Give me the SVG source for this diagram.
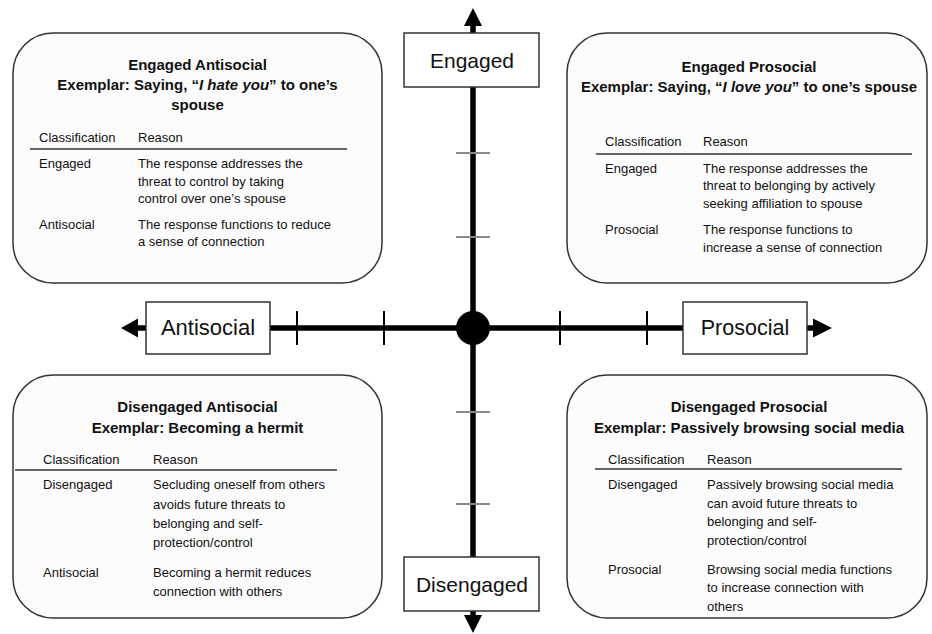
<svg xmlns="http://www.w3.org/2000/svg" width="932" height="634" viewBox="0 0 932 634">
<style>
text{font-family:"Liberation Sans",Arial,sans-serif;fill:#111}
.card{fill:#fcfcfc;stroke:#333;stroke-width:1.5}
.ttl{font-size:15px;font-weight:bold;text-anchor:middle}
.b{font-size:13px}
.rule{stroke:#333;stroke-width:1.3}
.lab{fill:#fff;stroke:#333;stroke-width:1.5}
.ax{font-size:21px;text-anchor:middle}
.axis{stroke:#000;stroke-width:5.5;fill:none}
.tk{stroke:#000;stroke-width:2}
.tg{stroke:#8a8a8a;stroke-width:2.2}
</style>
<g id="connectors">
<line class="axis" x1="473" y1="22" x2="473" y2="620"/>
<line class="axis" x1="134" y1="328" x2="816" y2="328"/>
<polygon points="473,8 464,26 482,26" fill="#000"/>
<polygon points="473,633 464,615 482,615" fill="#000"/>
<polygon points="121,328 138,318.5 138,337.5" fill="#000"/>
<polygon points="832,328 813,318.5 813,337.5" fill="#000"/>
<line class="tk" x1="297" y1="311" x2="297" y2="345"/>
<line class="tk" x1="384" y1="311" x2="384" y2="345"/>
<line class="tk" x1="560" y1="311" x2="560" y2="345"/>
<line class="tk" x1="647" y1="311" x2="647" y2="345"/>
<line class="tg" x1="456" y1="153" x2="490" y2="153"/>
<line class="tg" x1="456" y1="237" x2="490" y2="237"/>
<line class="tg" x1="456" y1="412" x2="490" y2="412"/>
<line class="tg" x1="456" y1="504" x2="490" y2="504"/>
<circle cx="473" cy="328" r="17" fill="#000"/>
</g>
<g id="engaged">
<rect class="lab" x="404" y="33" width="135" height="54"/>
<text class="ax" x="472" y="68">Engaged</text>
</g>
<g id="disengaged">
<rect class="lab" x="404" y="557" width="135" height="54"/>
<text class="ax" x="472" y="592">Disengaged</text>
</g>
<g id="antisocial">
<rect class="lab" x="146" y="302" width="124" height="52"/>
<text class="ax" x="208" y="335" style="font-size:22px">Antisocial</text>
</g>
<g id="prosocial">
<rect class="lab" x="683" y="302" width="124" height="52"/>
<text class="ax" x="745" y="335" style="font-size:21.5px">Prosocial</text>
</g>
<g id="engaged-antisocial">
<rect class="card" x="13" y="33" width="369" height="250" rx="40" ry="40"/>
<text class="ttl" x="197.5" y="70">Engaged Antisocial</text>
<text class="ttl" x="197.5" y="90">Exemplar: Saying, “<tspan font-style="italic">I hate you</tspan>” to one’s</text>
<text class="ttl" x="197.5" y="110">spouse</text>
<text class="b" x="39" y="142">Classification</text>
<text class="b" x="138" y="142">Reason</text>
<line class="rule" x1="30" y1="149" x2="347" y2="149"/>
<text class="b" x="39" y="168">Engaged</text>
<text class="b" x="138" y="168">The response addresses the</text>
<text class="b" x="138" y="186">threat to control by taking</text>
<text class="b" x="138" y="203">control over one’s spouse</text>
<text class="b" x="39" y="229">Antisocial</text>
<text class="b" x="138" y="229">The response functions to reduce</text>
<text class="b" x="138" y="246">a sense of connection</text>
</g>
<g id="engaged-prosocial">
<rect class="card" x="567" y="33" width="360" height="250" rx="40" ry="40"/>
<text class="ttl" x="749" y="72">Engaged Prosocial</text>
<text class="ttl" x="749" y="92">Exemplar: Saying, “<tspan font-style="italic">I love you</tspan>” to one’s spouse</text>
<text class="b" x="605" y="146">Classification</text>
<text class="b" x="703" y="146">Reason</text>
<line class="rule" x1="596" y1="154" x2="912" y2="154"/>
<text class="b" x="605" y="173">Engaged</text>
<text class="b" x="703" y="173">The response addresses the</text>
<text class="b" x="703" y="190">threat to belonging by actively</text>
<text class="b" x="703" y="208">seeking affiliation to spouse</text>
<text class="b" x="605" y="234">Prosocial</text>
<text class="b" x="703" y="234">The response functions to</text>
<text class="b" x="703" y="252">increase a sense of connection</text>
</g>
<g id="disengaged-antisocial">
<rect class="card" x="13" y="375" width="369" height="243" rx="40" ry="40"/>
<text class="ttl" x="197.5" y="412">Disengaged Antisocial</text>
<text class="ttl" x="197.5" y="433">Exemplar: Becoming a hermit</text>
<text class="b" x="43" y="464">Classification</text>
<text class="b" x="153" y="464">Reason</text>
<line class="rule" x1="15" y1="470" x2="337" y2="470"/>
<text class="b" x="43" y="489">Disengaged</text>
<text class="b" x="153" y="489">Secluding oneself from others</text>
<text class="b" x="153" y="509">avoids future threats to</text>
<text class="b" x="153" y="528">belonging and self-</text>
<text class="b" x="153" y="547">protection/control</text>
<text class="b" x="43" y="577">Antisocial</text>
<text class="b" x="153" y="577">Becoming a hermit reduces</text>
<text class="b" x="153" y="596">connection with others</text>
</g>
<g id="disengaged-prosocial">
<rect class="card" x="567" y="375" width="360" height="243" rx="40" ry="40"/>
<text class="ttl" x="749" y="412">Disengaged Prosocial</text>
<text class="ttl" x="749" y="433">Exemplar: Passively browsing social media</text>
<text class="b" x="608" y="464">Classification</text>
<text class="b" x="707" y="464">Reason</text>
<line class="rule" x1="595" y1="469" x2="902" y2="469"/>
<text class="b" x="608" y="489">Disengaged</text>
<text class="b" x="707" y="489">Passively browsing social media</text>
<text class="b" x="707" y="508">can avoid future threats to</text>
<text class="b" x="707" y="526">belonging and self-</text>
<text class="b" x="707" y="545">protection/control</text>
<text class="b" x="608" y="574">Prosocial</text>
<text class="b" x="707" y="574">Browsing social media functions</text>
<text class="b" x="707" y="592">to increase connection with</text>
<text class="b" x="707" y="611">others</text>
</g>
</svg>
